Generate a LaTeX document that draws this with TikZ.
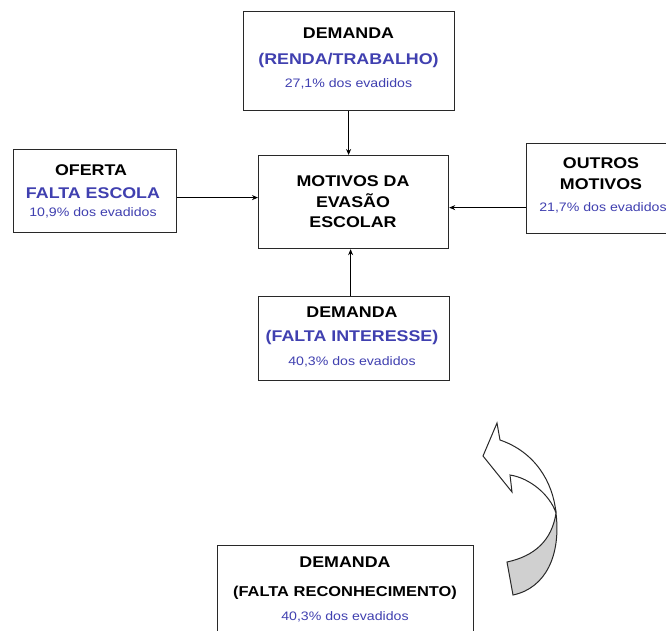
\documentclass[tikz,border=0pt]{standalone}
\usepackage{fontspec}
\setmainfont{Liberation Sans}[FakeStretch=1.15]
\usetikzlibrary{arrows.meta,calc}
\definecolor{txtblue}{RGB}{64,64,176}
\definecolor{boxline}{RGB}{40,40,40}
\definecolor{twistgrey}{RGB}{208,208,208}
\tikzset{
  box/.style={draw=boxline,line width=1.2pt,rectangle,inner sep=0pt,anchor=north west},
  head/.style={inner sep=0pt,font=\fontsize{15.5}{18}\selectfont\bfseries,text=black},
  sub/.style={inner sep=0pt,font=\fontsize{15.5}{18}\selectfont\bfseries,text=txtblue},
  small/.style={inner sep=0pt,font=\fontsize{12.3}{14}\selectfont,text=txtblue},
  conn/.style={draw=black,line width=1.1pt,-{Stealth[length=6pt,width=5pt]}},
  twist/.style={draw=boxline,line width=1pt,line join=miter}
}
\begin{document}
\begin{tikzpicture}[x=1pt,y=-1pt]
\useasboundingbox (0,0) rectangle (666,630);
\fill[white] (0,0) rectangle (666,630);
% boxes
\node[box,minimum width=211pt,minimum height=99pt] (top) at (243,11) {};
\node[box,minimum width=190pt,minimum height=93pt] (mid) at (258,155) {};
\node[box,minimum width=163pt,minimum height=83pt] (left) at (13,149) {};
\node[box,minimum width=150pt,minimum height=90pt] (right) at (526,143) {};
\node[box,minimum width=191pt,minimum height=84pt] (bot) at (258,296) {};
\node[box,minimum width=256pt,minimum height=100pt] (low) at (217,545) {};
% texts
\node[head] (t1) at (348.5,33.5) {DEMANDA};
\node[sub] (t2) at (348.5,60) {(RENDA/TRABALHO)};
\node[small] (t3) at (348.5,84) {27,1\% dos evadidos};
\node[head] (m1) at (353,181) {MOTIVOS DA};
\node[head] (m2) at (353,201) {EVASÃO};
\node[head] (m3) at (353,222) {ESCOLAR};
\node[head] (l1) at (91,170) {OFERTA};
\node[sub] (l2) at (93,193) {FALTA ESCOLA};
\node[small] (l3) at (93,213) {10,9\% dos evadidos};
\node[head] (r1) at (601,163) {OUTROS};
\node[head] (r2) at (601,184) {MOTIVOS};
\node[small] (r3) at (603,208) {21,7\% dos evadidos};
\node[head] (b1) at (352,312) {DEMANDA};
\node[sub] (b2) at (352,337) {(FALTA INTERESSE)};
\node[small] (b3) at (352,362) {40,3\% dos evadidos};
\node[head] (w1) at (345,562) {DEMANDA};
\node[head,font=\fontsize{14.3}{16}\selectfont\bfseries] (w2) at (345,593) {(FALTA RECONHECIMENTO)};
\node[small] (w3) at (345,617) {40,3\% dos evadidos};
% connectors
\draw[conn] ([xshift=-0.5pt]top.south) -- ([xshift=-0.5pt]top.south |- mid.north);
\draw[conn] ([yshift=-6.5pt]left.east) -- ([yshift=-6.5pt]left.east -| mid.west);
\draw[conn] ([yshift=-19pt]right.west) -- ([yshift=-19pt]right.west -| mid.east);
\draw[conn] ([xshift=-3.5pt]bot.north) -- ([xshift=-3.5pt]bot.north |- mid.south);
% twisted curved arrow
\coordinate (cx) at (556,513);
\filldraw[twist,fill=twistgrey] (cx) .. controls (561,555) and (546,588) .. (513,595)
  -- (507,562) .. controls (535,556) and (552,540) .. (cx) -- cycle;
\filldraw[twist,fill=white] (cx) .. controls (553,482) and (535,452) .. (500,440)
  -- (497,423) -- (483,456) -- (512,492) -- (510,475)
  .. controls (530,478) and (550,495) .. (cx);
\end{tikzpicture}
\end{document}
